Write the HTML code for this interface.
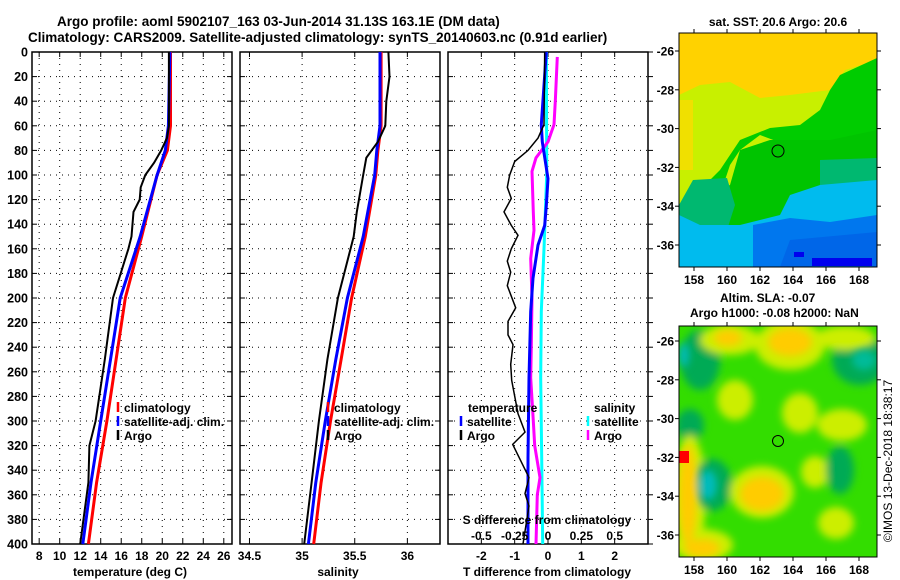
<!DOCTYPE html>
<html><head><meta charset="utf-8"><title>Argo profile</title>
<style>
html,body{margin:0;padding:0;background:#fff;}
svg{display:block;font-family:"Liberation Sans",sans-serif;font-weight:bold;}
</style></head>
<body>
<svg id="fig" width="900" height="580" viewBox="0 0 900 580">
<text x="57" y="26" font-size="13.5">Argo profile: aoml 5902107_163 03-Jun-2014 31.13S 163.1E (DM data)</text>
<text x="28" y="42" font-size="13.5">Climatology: CARS2009. Satellite-adjusted climatology: synTS_20140603.nc (0.91d earlier)</text>

<!-- Map 1: SST -->
<g>
<clipPath id="c1"><rect x="679" y="33" width="198" height="234"/></clipPath>
<g clip-path="url(#c1)">
<rect x="679" y="33" width="198" height="234" fill="#ffd200"/>
<polygon points="679,95 700,85 730,82 760,98 790,95 830,90 845,70 877,60 877,267 679,267" fill="#c8f000"/>
<polygon points="679,100 693,100 693,170 679,170" fill="#f0e000"/>
<polygon points="840,75 877,58 877,170 830,180 800,150 760,135 740,150 730,165 725,180 740,200 760,220 680,267 700,267 679,267 679,210 700,190 720,170 740,140 770,128 800,125 820,110 830,90" fill="#00cc00"/>
<polygon points="740,150 770,140 800,140 830,140 877,130 877,260 679,267 679,215 700,200 730,185" fill="#00c400"/>
<polygon points="693,180 727,178 735,205 727,230 693,230 679,225 679,205" fill="#00b870"/>
<polygon points="820,160 877,158 877,190 840,195 820,185" fill="#00b870"/>
<polygon points="679,215 700,225 740,225 780,215 790,195 820,185 877,180 877,267 679,267" fill="#00bbee"/>
<polygon points="753,225 790,218 830,222 877,215 877,267 753,267" fill="#0077ee"/>
<polygon points="790,240 877,232 877,267 780,267" fill="#0066e8"/>
<rect x="812" y="258" width="60" height="8" fill="#0000ee"/>
<rect x="794" y="252" width="10" height="5" fill="#0000ee"/>
<circle cx="778" cy="151" r="6" fill="none" stroke="#000" stroke-width="1"/>
</g>
<rect x="679" y="33" width="198" height="234" fill="none" stroke="#000"/>
</g>
<text x="778" y="26" font-size="12" text-anchor="middle">sat. SST: 20.6 Argo: 20.6</text>

<!-- Map 2: SLA -->
<g>
<defs><filter id="bl" x="-50%" y="-50%" width="200%" height="200%"><feGaussianBlur stdDeviation="4"/></filter></defs>
<clipPath id="c2"><rect x="679" y="326" width="198" height="231"/></clipPath>
<g clip-path="url(#c2)">
<rect x="679" y="326" width="198" height="231" fill="#33dd00"/>
<g filter="url(#bl)">
<ellipse cx="700" cy="360" rx="20" ry="30" fill="#00aa55"/>
<ellipse cx="860" cy="360" rx="28" ry="25" fill="#00aa55"/>
<ellipse cx="730" cy="340" rx="30" ry="15" fill="#ccee00"/>
<ellipse cx="790" cy="345" rx="35" ry="25" fill="#ccee00"/>
<ellipse cx="845" cy="338" rx="30" ry="12" fill="#ccee00"/>
<ellipse cx="735" cy="400" rx="18" ry="20" fill="#ccee00"/>
<ellipse cx="800" cy="413" rx="18" ry="20" fill="#ccee00"/>
<ellipse cx="842" cy="425" rx="25" ry="16" fill="#ccee00"/>
<ellipse cx="690" cy="425" rx="14" ry="16" fill="#00aa55"/>
<ellipse cx="690" cy="495" rx="16" ry="60" fill="#ccee00"/>
<ellipse cx="712" cy="485" rx="20" ry="26" fill="#00aa55"/>
<ellipse cx="762" cy="492" rx="32" ry="26" fill="#ccee00"/>
<ellipse cx="815" cy="472" rx="14" ry="16" fill="#ccee00"/>
<ellipse cx="840" cy="470" rx="14" ry="24" fill="#00aa55"/>
<ellipse cx="703" cy="545" rx="30" ry="16" fill="#ccee00"/>
<ellipse cx="836" cy="523" rx="18" ry="16" fill="#ccee00"/>
</g>
<g filter="url(#bl)">
<ellipse cx="790" cy="342" rx="22" ry="14" fill="#ffcc00"/>
<ellipse cx="728" cy="338" rx="14" ry="8" fill="#ffcc00"/>
<ellipse cx="688" cy="495" rx="9" ry="50" fill="#ffcc00"/>
<ellipse cx="762" cy="494" rx="22" ry="17" fill="#ffcc00"/>
<ellipse cx="702" cy="548" rx="18" ry="9" fill="#ffcc00"/>
<ellipse cx="708" cy="485" rx="9" ry="15" fill="#00bbbb"/>
<ellipse cx="684" cy="355" rx="5" ry="12" fill="#00bbbb"/>
<ellipse cx="864" cy="360" rx="12" ry="10" fill="#00bb99"/>
</g>
<rect x="679" y="451" width="10" height="12" fill="#ff0000"/>
<circle cx="778" cy="441" r="5.5" fill="none" stroke="#000" stroke-width="1"/>
</g>
<rect x="679" y="326" width="198" height="231" fill="none" stroke="#000"/>
</g>
<text x="720" y="302" font-size="12">Altim. SLA: -0.07</text>
<text x="690" y="317" font-size="12">Argo h1000: -0.08 h2000: NaN</text>
<text transform="translate(892,461) rotate(-90)" font-size="12" font-weight="normal" text-anchor="middle">©IMOS 13-Dec-2018 18:38:17</text>

<g id="axes"></g>
</svg>
<script>
// ---- data ----
const depthTicks = [0,20,40,60,80,100,120,140,160,180,200,220,240,260,280,300,320,340,360,380,400];
const tempTicks = [8,10,12,14,16,18,20,22,24,26];
const salTicks = [34.5,35,35.5,36];
const salTickLabels = ["34.5","35","35.5","36"];
const tdiffTicks = [-2,-1,0,1,2];
const sdiffTicks = [-0.5,-0.25,0,0.25,0.5];
const sdiffTickLabels = ["-0.5","-0.25","0","0.25","0.5"];
const mapLonTicks = [158,160,162,164,166,168];
const mapLatTicks = [-26,-28,-30,-32,-34,-36];

const climDepth = [0,60,80,100,150,200,250,300,350,400];
const climTemp = [20.8,20.8,20.5,19.5,18.0,16.4,15.5,14.6,13.6,12.8];
const satTemp = [20.75,20.6,20.3,19.5,17.85,15.9,14.95,14.0,13.05,12.25];
const argoTempDepth = [0,60,70,80,90,100,110,120,130,150,160,200,250,300,320,350,400];
const argoTemp = [20.65,20.65,20.45,19.9,19.2,18.35,17.9,17.8,17.2,17.0,16.7,15.2,14.4,13.5,12.9,12.8,12.0];

const climSal = [35.75,35.75,35.72,35.7,35.6,35.47,35.37,35.27,35.18,35.11];
const satSal = [35.74,35.74,35.71,35.69,35.58,35.43,35.32,35.22,35.13,35.06];
const argoSalDepth = [0,20,40,60,73,86,100,130,150,200,250,300,350,400];
const argoSal = [35.82,35.83,35.80,35.79,35.72,35.61,35.58,35.52,35.49,35.34,35.24,35.16,35.09,35.02];

const tdiffArgoDepth = [0,59,70,80,89,100,110,119,130,141,149,160,170,179,190,208,219,230,238,254,267,294,309,319,346,359,369,400];
const tdiffArgo = [-0.1,-0.12,-0.3,-0.6,-1.0,-1.15,-1.22,-1.1,-1.32,-1.1,-0.9,-1.1,-1.22,-1.12,-1.22,-0.97,-1.2,-1.2,-1.05,-1.12,-1.09,-0.9,-0.69,-1.06,-0.57,-0.69,-0.57,-0.75];
const tdiffSatDepth = [0,59,73,103,125,141,157,184,211,265,330,400];
const tdiffSat = [-0.05,-0.2,-0.17,0,-0.05,-0.1,-0.3,-0.45,-0.52,-0.57,-0.6,-0.6];
const sdiffSatDepth = [0,100,160,211,265,330,400];
const sdiffSat = [-0.012,-0.01,-0.03,-0.05,-0.055,-0.047,-0.04];
const sdiffArgoDepth = [4,40,59,73,86,97,130,145,168,200,240,265,300,320,346,360,400];
const sdiffArgo = [0.07,0.055,0.045,0,-0.09,-0.12,-0.11,-0.105,-0.13,-0.12,-0.125,-0.13,-0.11,-0.1,-0.06,-0.08,-0.09];

// ---- layout ----
const NS = "http://www.w3.org/2000/svg";
const root = document.getElementById('axes');
const Y0 = 52, Y1 = 544;
const yD = d => Y0 + (d / 400) * (Y1 - Y0);
const P1 = {x0:32, x1:232, v0:7.3, v1:26.8};
const P2 = {x0:240, x1:440, v0:34.41, v1:36.31};
const P3 = {x0:448, x1:648, v0:-3, v1:3};
const P3s = {x0:448, x1:648, v0:-0.75, v1:0.75};
const sx = (p, v) => p.x0 + (v - p.v0) / (p.v1 - p.v0) * (p.x1 - p.x0);

function mk(tag, attrs, parent) {
  const e = document.createElementNS(NS, tag);
  for (const k in attrs) e.setAttribute(k, attrs[k]);
  (parent || root).appendChild(e);
  return e;
}
function txt(x, y, s, size, anchor, parent) {
  const t = mk('text', {x:x, y:y, 'font-size':size, 'text-anchor':anchor || 'middle'}, parent);
  t.textContent = s;
  return t;
}

function panel(p, name, xticks, xlabels, rightTicks) {
  const g = mk('g', {});
  
  
  depthTicks.forEach(d => {
    if (d > 0 && d < 400) mk('line', {x1:p.x0, x2:p.x1, y1:yD(d), y2:yD(d), stroke:'#000', 'stroke-width':1, 'stroke-dasharray':'1,5'}, g);
    mk('line', {x1:p.x0, x2:p.x0+5, y1:yD(d), y2:yD(d), stroke:'#000'}, g);
    if (rightTicks) mk('line', {x1:p.x1, x2:p.x1+5, y1:yD(d), y2:yD(d), stroke:'#000'}, g);
    else mk('line', {x1:p.x1-5, x2:p.x1, y1:yD(d), y2:yD(d), stroke:'#000'}, g);
  });
  xticks.forEach(v => {
    const x = sx(p, v);
    mk('line', {x1:x, x2:x, y1:Y0, y2:Y1, stroke:'#000', 'stroke-dasharray':'1,5'}, g);
    mk('line', {x1:x, x2:x, y1:Y0, y2:Y0+5, stroke:'#000'}, g);
    mk('line', {x1:x, x2:x, y1:Y1-5, y2:Y1, stroke:'#000'}, g);
  });
  mk('rect', {x:p.x0, y:Y0, width:p.x1-p.x0, height:Y1-Y0, fill:'none', stroke:'#000', 'stroke-width':1.5}, g);
  return g;
}
function line(p, depths, vals, color, w, g, name) {
  const pts = depths.map((d, i) => sx(p, vals[i]).toFixed(1) + ',' + yD(d).toFixed(1)).join(' ');
  const l = mk('polyline', {points:pts, fill:'none', stroke:color, 'stroke-width':w}, g);
  
  
}

// y tick labels
const yl = mk('g', {});


depthTicks.forEach(d => txt(28, yD(d) + 4.5, String(d), 12.5, 'end', yl));

// Panel 1 temperature
const g1 = panel(P1, 'temperature-panel', tempTicks, tempTicks, false);
line(P1, climDepth, climTemp, '#ff0000', 3, g1, 'temp-climatology-line');
line(P1, climDepth, satTemp, '#0000ff', 3, g1, 'temp-satellite-line');
line(P1, argoTempDepth, argoTemp, '#000', 2, g1, 'temp-argo-line');
tempTicks.forEach(v => txt(sx(P1, v), 560, String(v), 12, 'middle', g1));
txt(130, 576, 'temperature (deg C)', 12, 'middle', g1);

// Panel 2 salinity
const g2 = panel(P2, 'salinity-panel', salTicks, salTickLabels, false);
line(P2, climDepth, climSal, '#ff0000', 3, g2, 'sal-climatology-line');
line(P2, climDepth, satSal, '#0000ff', 3, g2, 'sal-satellite-line');
line(P2, argoSalDepth, argoSal, '#000', 2, g2, 'sal-argo-line');
salTicks.forEach((v, i) => txt(sx(P2, v), 560, salTickLabels[i], 12, 'middle', g2));
txt(338, 576, 'salinity', 12, 'middle', g2);

// Panel 3 differences
const g3 = panel(P3, 'difference-panel', tdiffTicks, tdiffTicks, true);
line(P3s, sdiffSatDepth, sdiffSat, '#00ffff', 3, g3, 'sdiff-satellite-line');
line(P3s, sdiffArgoDepth, sdiffArgo, '#ff00ff', 3, g3, 'sdiff-argo-line');
line(P3, tdiffSatDepth, tdiffSat, '#0000ff', 3, g3, 'tdiff-satellite-line');
line(P3, tdiffArgoDepth, tdiffArgo, '#000', 1.5, g3, 'tdiff-argo-line');
tdiffTicks.forEach(v => txt(sx(P3, v), 560, String(v), 12, 'middle', g3));
sdiffTicks.forEach((v, i) => txt(sx(P3s, v), 540, sdiffTickLabels[i], 12, 'middle', g3));
txt(547, 524, 'S difference from climatology', 12, 'middle', g3);
txt(547, 576, 'T difference from climatology', 12, 'middle', g3);

// legends
function legend(x, y, color, label, name) {
  const g = mk('g', {});
  
  
  mk('line', {x1:x, x2:x, y1:y-10, y2:y, stroke:color, 'stroke-width':2.5}, g);
  txt(x + 6, y, label, 12, 'start', g);
}
legend(118, 412, '#ff0000', 'climatology', 'legend-temp-climatology');
legend(118, 426, '#0000ff', 'satellite-adj. clim.', 'legend-temp-satellite');
legend(118, 440, '#000', 'Argo', 'legend-temp-argo');
legend(328, 412, '#ff0000', 'climatology', 'legend-sal-climatology');
legend(328, 426, '#0000ff', 'satellite-adj. clim.', 'legend-sal-satellite');
legend(328, 440, '#000', 'Argo', 'legend-sal-argo');
txt(468, 412, 'temperature', 12, 'start', g3);
legend(461, 426, '#0000ff', 'satellite', 'legend-tdiff-satellite');
legend(461, 440, '#000', 'Argo', 'legend-tdiff-argo');
txt(594, 412, 'salinity', 12, 'start', g3);
legend(588, 426, '#00ffff', 'satellite', 'legend-sdiff-satellite');
legend(588, 440, '#ff00ff', 'Argo', 'legend-sdiff-argo');

// map axes
const lonX = lon => 694 + (lon - 158) * 16.5;
function mapAxes(yTop, yBot, lat26, lat36, name) {
  const g = mk('g', {});
  
  
  const latY = lat => lat26 + (-26 - lat) / 10 * (lat36 - lat26);
  mapLonTicks.forEach(l => {
    const x = lonX(l);
    mk('line', {x1:x, x2:x, y1:yTop-4, y2:yTop, stroke:'#000'}, g);
    mk('line', {x1:x, x2:x, y1:yBot, y2:yBot+4, stroke:'#000'}, g);
    txt(x, yBot + 17, String(l), 12, 'middle', g);
  });
  mapLatTicks.forEach(l => {
    const y = latY(l);
    mk('line', {x1:675, x2:679, y1:y, y2:y, stroke:'#000'}, g);
    mk('line', {x1:877, x2:881, y1:y, y2:y, stroke:'#000'}, g);
    txt(674, y + 4.5, String(l), 12, 'end', g);
  });
}
mapAxes(33, 267, 51, 245, 'sst-map-axes');
mapAxes(326, 557, 341, 535, 'sla-map-axes');
</script>
</body></html>
